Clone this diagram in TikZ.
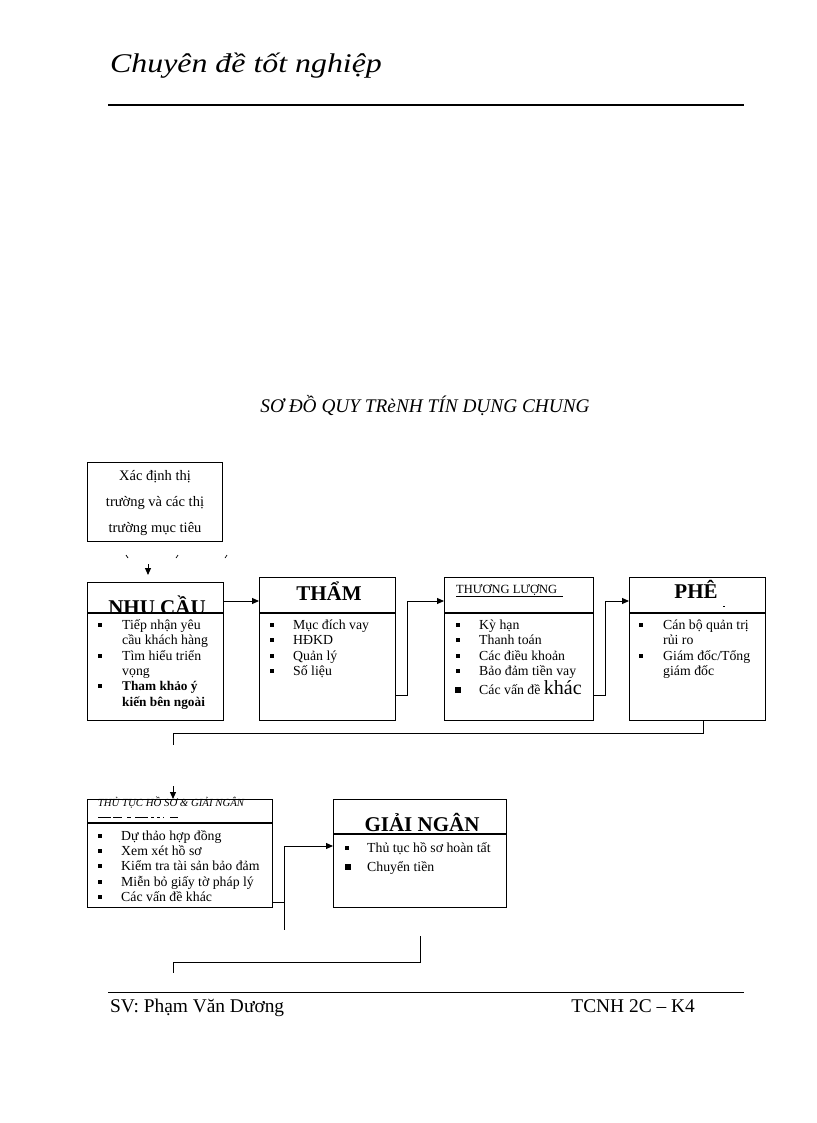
\documentclass[tikz,border=0pt]{standalone}
\usepackage{fontspec}
\setmainfont{Liberation Serif}
\usetikzlibrary{arrows.meta,calc}
\begin{document}
\begin{tikzpicture}[x=1pt,y=-1pt,
  box/.style={draw,line width=1.1pt,inner sep=0,anchor=north west},
  divl/.style={line width=1.1pt},
  conn/.style={line width=1pt},
  arr/.style={conn,-{Triangle[length=7pt,width=6pt]}},
  item/.style={anchor=base west,inner sep=0,font=\fontsize{13.8}{15}\selectfont},
  ctext/.style={anchor=base,inner sep=0,font=\fontsize{14.5}{15}\selectfont},
  bul/.style={fill,inner sep=0,minimum size=3.6pt},
  bigbul/.style={fill,inner sep=0,minimum size=5.2pt},
  head/.style={anchor=base,inner sep=0,font=\fontsize{21}{24}\selectfont\bfseries}]
\useasboundingbox (0,0) rectangle (816,1123);

% page header
\node[anchor=base west,inner sep=0,font=\fontsize{27}{30}\selectfont\itshape] (hdr) at (110,73) {\scalebox{1.18}[1]{Chuyên đề tốt nghiệp}};
\draw[line width=2.2pt] (108,105) -- (744,105);

% title
\node[anchor=base,inner sep=0,font=\fontsize{19.3}{22}\selectfont\itshape] (title) at (425,412) {SƠ ĐỒ QUY TRèNH TÍN DỤNG CHUNG};

% Xac dinh box
\node[box,minimum width=135pt,minimum height=79pt] (xac) at (87,462) {};
\node[ctext] (x1) at (155,480) {Xác định thị};
\node[ctext] (x2) at (155,506) {trường và các thị};
\node[ctext] (x3) at (155,532) {trường mục tiêu};
\draw[line width=0.7pt] (126,555) -- (128,558) (178,555) -- (176,558) (227,555) -- (225,558);

% NHU CAU
\node[head] (nhut) at (157,614.5) {NHU CẦU};
\fill[white] (87.6,613) rectangle (222.4,719.4);
\node[box,minimum width=136pt,minimum height=138pt] (nhu) at (87,582) {};
\draw[divl] (nhu.west |- 0,613) -- (nhu.east |- 0,613);
\node[bul] (nb1) at (100,625) {};
\node[item] (n1) at (122,629) {Tiếp nhận yêu};
\node[item] (n2) at (122,644) {cầu khách hàng};
\node[bul] (nb2) at (100,656) {};
\node[item] (n3) at (122,660) {Tìm hiểu triển};
\node[item] (n4) at (122,675) {vọng};
\node[bul] (nb3) at (100,686) {};
\node[item,font=\fontsize{13.3}{15}\selectfont\bfseries] (n5) at (122,690) {Tham khảo ý};
\node[item,font=\fontsize{13.3}{15}\selectfont\bfseries] (n6) at (122,706) {kiến bên ngoài};

% THAM
\node[box,minimum width=136pt,minimum height=143pt] (tham) at (259,577) {};
\draw[divl] (tham.west |- 0,613) -- (tham.east |- 0,613);
\node[head] (thamt) at (329,600) {THẨM};
\node[bul] (tb1) at (272,625) {};
\node[item] (t1) at (293,629) {Mục đích vay};
\node[bul] (tb2) at (272,640) {};
\node[item] (t2) at (293,644) {HĐKD};
\node[bul] (tb3) at (272,656) {};
\node[item] (t3) at (293,660) {Quản lý};
\node[bul] (tb4) at (272,671) {};
\node[item] (t4) at (293,675) {Số liệu};

% THUONG LUONG
\node[box,minimum width=149pt,minimum height=143pt] (thuong) at (444,577) {};
\draw[divl] (thuong.west |- 0,613) -- (thuong.east |- 0,613);
\node[anchor=base west,inner sep=0,font=\fontsize{12.5}{14}\selectfont] (thuongt) at (456,593) {\underline{THƯƠNG LƯỢNG\ \ }};
\node[bul] (ub1) at (458,625) {};
\node[item] (u1) at (479,629) {Kỳ hạn};
\node[bul] (ub2) at (458,640) {};
\node[item] (u2) at (479,644) {Thanh toán};
\node[bul] (ub3) at (458,656) {};
\node[item] (u3) at (479,660) {Các điều khoản};
\node[bul] (ub4) at (458,671) {};
\node[item] (u4) at (479,675) {Bảo đảm tiền vay};
\node[bigbul] (ub5) at (458,690) {};
\node[item] (u5) at (479,694) {Các vấn đề \fontsize{20}{20}\selectfont khác};

% PHE
\node[box,minimum width=136pt,minimum height=143pt] (phe) at (629,577) {};
\draw[divl] (phe.west |- 0,613) -- (phe.east |- 0,613);
\node[head] (phet) at (696,598) {PHÊ};
\draw[line width=0.7pt] (723,606) -- (725,606);
\node[bul] (pb1) at (641,625) {};
\node[item] (p1) at (663,629) {Cán bộ quản trị};
\node[item] (p2) at (663,644) {rủi ro};
\node[bul] (pb2) at (641,656) {};
\node[item] (p3) at (663,660) {Giám đốc/Tổng};
\node[item] (p4) at (663,675) {giám đốc};

% THU TUC
\node[box,minimum width=185pt,minimum height=108pt] (thu) at (87,799) {};
\draw[divl] (thu.west |- 0,823) -- (thu.east |- 0,823);
\node[anchor=base,inner sep=0,font=\fontsize{10.8}{12}\selectfont\itshape] (thut) at (171,806) {THỦ TỤC HỒ SƠ \& GIẢI NGÂN};
\draw[line width=0.7pt] (98,817) -- (111,817) (113,817) -- (122,817) (127,817) -- (131,817) (135,817) -- (148,817) (151,817) -- (154,817) (157,817) -- (160,817) (163,817) -- (164,817) (170,817) -- (178,817);
\node[bul] (hb1) at (100,836) {};
\node[item] (h1) at (121,840) {Dự thảo hợp đồng};
\node[bul] (hb2) at (100,851) {};
\node[item] (h2) at (121,855) {Xem xét hồ sơ};
\node[bul] (hb3) at (100,866) {};
\node[item] (h3) at (121,870) {Kiểm tra tài sản bảo đảm};
\node[bul] (hb4) at (100,882) {};
\node[item] (h4) at (121,886) {Miễn bỏ giấy tờ pháp lý};
\node[bul] (hb5) at (100,897) {};
\node[item] (h5) at (121,901) {Các vấn đề khác};

% GIAI NGAN
\node[box,minimum width=173pt,minimum height=108pt] (giai) at (333,799) {};
\draw[divl] (giai.west |- 0,834) -- (giai.east |- 0,834);
\node[head] (giait) at (422,831) {GIẢI NGÂN};
\node[bul] (gb1) at (347,848) {};
\node[item] (g1) at (367,852) {Thủ tục hồ sơ hoàn tất};
\node[bigbul] (gb2) at (348,867) {};
\node[item] (g2) at (367,871) {Chuyển tiền};

% connectors
\draw[arr,shorten <=22pt,shorten >=7pt] (xac.south -| 148,0) -- (nhu.north -| 148,0);
\draw[arr] (nhu.east |- 0,601) -- (tham.west |- 0,601);
\draw[arr] (tham.east |- 0,695) -| (407,601) -- (thuong.west |- 0,601);
\draw[arr] (thuong.east |- 0,695) -| (605,601) -- (phe.west |- 0,601);
\coordinate (j1) at (173,745);
\draw[conn] (phe.south -| 703,0) |- (173,733) -- (j1);
\draw[arr,shorten <=41pt] (j1) -- (thu.north -| j1);
\coordinate (k1) at (284,846);
\draw[conn] (thu.east |- 0,902) -| (k1);
\draw[conn] (k1) -- ++(0,84);
\draw[arr] (k1) -- (giai.west |- k1);
\coordinate (m1) at (420,962);
\draw[conn,shorten <=28pt] (giai.south -| m1) -- (m1) -- (173,962) -- (173,973);

% footer
\draw[line width=0.8pt] (108,992) -- (744,992);
\node[anchor=base west,inner sep=0,font=\fontsize{19.4}{21}\selectfont] (sv) at (110,1012) {SV: Phạm Văn Dương};
\node[anchor=base east,inner sep=0,font=\fontsize{19.4}{21}\selectfont] (lop) at (695,1012) {TCNH 2C – K4};
\end{tikzpicture}
\end{document}
